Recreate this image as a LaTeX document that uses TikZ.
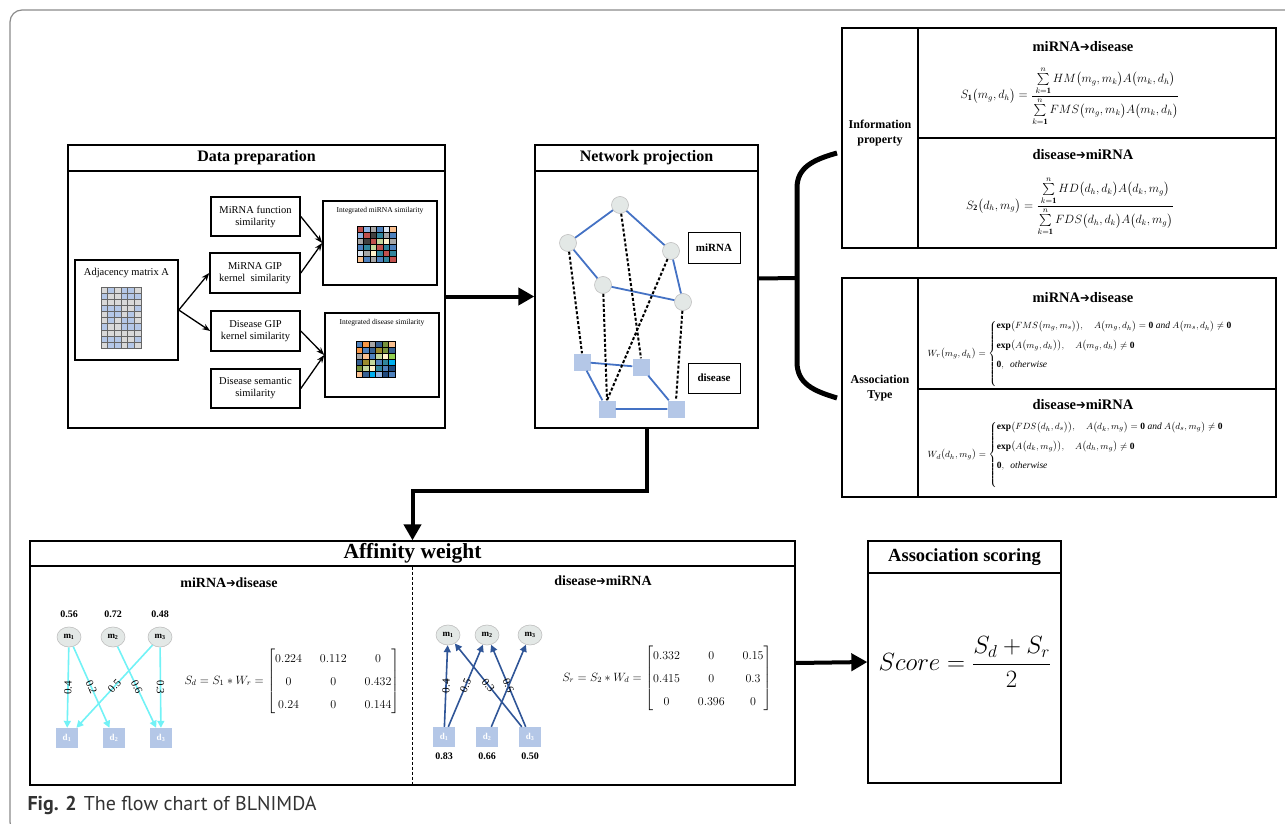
\documentclass[tikz,border=0pt]{standalone}
\usepackage{amsmath}
\usepackage{fontspec}
\setmainfont{Liberation Serif}
\newfontfamily\capfont{PT Sans}
\newfontfamily\arrfont{DejaVu Sans}
\usetikzlibrary{arrows.meta,shapes.geometric}

\definecolor{framegray}{HTML}{8A8A8A}
\definecolor{netblue}{HTML}{4472C4}
\definecolor{nodegray}{HTML}{E3E8E6}
\definecolor{sqblue}{HTML}{B4C7E7}
\definecolor{edgecyan}{HTML}{72F2F6}
\definecolor{edgedark}{HTML}{2F5597}
\definecolor{gridblue}{HTML}{B4C7E7}
\definecolor{gridgray}{HTML}{D9D9D9}
% colours of the two integrated matrices
\definecolor{cred}{HTML}{C0504D}
\definecolor{clb}{HTML}{8EB4E3}
\definecolor{cgr}{HTML}{A6A6A6}
\definecolor{cdg}{HTML}{404040}
\definecolor{csb}{HTML}{4F81BD}
\definecolor{cls}{HTML}{DCE6F2}
\definecolor{cpe}{HTML}{FAC090}
\definecolor{cte}{HTML}{31859C}
\definecolor{clg}{HTML}{C3D69B}
\definecolor{ccr}{HTML}{FFF2CC}
\definecolor{cbl}{HTML}{366092}
\definecolor{cor}{HTML}{F79646}
\definecolor{col}{HTML}{9C8B2E}
\definecolor{cgn}{HTML}{77933C}
\definecolor{ccy}{HTML}{00B0F0}
\definecolor{cmg}{HTML}{92D050}
\definecolor{cdb}{HTML}{1F497D}

\newcommand\fsz[2]{\fontsize{#1}{#2}\selectfont}
\newcommand\rarr{{\arrfont\scalebox{0.8}[0.9]{➔}}}
% box from (x1,y1) to (x2,y2)
\newcommand\boxat[7][]{%
  \node[draw,inner sep=0pt,line width=1.3pt,align=center,#1,
    minimum width={#5-#3},minimum height={#6-#4}] (#2) at ({(#3+#5)/2},{(#4+#6)/2}) {#7};}

\begin{document}
\begin{tikzpicture}[x=1pt,y=-1pt,
  smallarr/.style={line width=1.3pt,-{Stealth[length=8pt,width=6pt]}},
  bigarrow/.style={line width=4pt,-{Triangle[length=16pt,width=17pt]}},
  mirna/.style={circle,fill=nodegray,draw=black!25,line width=0.6pt,minimum size=17pt,inner sep=0pt},
  disq/.style={rectangle,fill=sqblue,minimum size=17pt,inner sep=0pt},
  netedge/.style={netblue,line width=1.8pt},
  dashedge/.style={line width=2pt,dash pattern=on 3pt off 2pt},
  mnode/.style={ellipse,fill=nodegray,draw=black!25,line width=0.6pt,minimum width=24pt,minimum height=20pt,inner sep=0pt,font=\fsz{9}{10}\bfseries},
  dnode/.style={rectangle,fill=sqblue,minimum width=22pt,minimum height=20pt,inner sep=0pt,text=white,font=\fsz{9}{10}\bfseries},
  cyanarr/.style={edgecyan,line width=1.6pt,-{Triangle[length=7pt,width=7pt]}},
  darkarr/.style={edgedark,line width=1.6pt,-{Triangle[length=7pt,width=7pt]}},
  wlbl/.style={sloped,text=black,font=\fsz{11}{12},inner sep=0.5pt},
  val/.style={font=\fsz{10}{11}\bfseries}]
\useasboundingbox (0,0) rectangle (1285,824);
\clip (0,0) rectangle (1285,824);

% outer frame
\draw[framegray,line width=1.2pt,rounded corners=12pt] (10,10) rectangle (1400,834);

% data preparation
\boxat{prep}{68}{145}{445}{428}{}
\boxat{prephead}{68}{145}{445}{171}{\fsz{16}{18}\bfseries Data preparation}
\boxat[line width=1.6pt]{adj}{75}{260}{178}{360}{}
\node[font=\fsz{10.5}{12}] (adjlbl) at (126.5,273) {Adjacency matrix A};
\foreach \j in {0,...,9}
  \foreach \i in {0,...,5} {
    \pgfmathtruncatemacro\pick{mod(\i*3+\j*\j+\j+\i*\j,5)}
    \ifnum\pick<2 \def\cc{gridgray}\else\def\cc{gridblue}\fi
    \filldraw[fill=\cc,draw=black!60,line width=0.4pt] ({101+\i*6.67},{287+\j*6.1}) rectangle ++(6.67,6.1);
  }
\boxat[line width=1.6pt,font=\fsz{10.5}{12}]{mfun}{211}{197}{300}{236}{MiRNA function\\similarity}
\boxat[line width=1.6pt,font=\fsz{10.5}{12}]{mgip}{210}{253}{300}{293}{MiRNA GIP\\kernel\ \ similarity}
\boxat[line width=1.6pt,font=\fsz{10.5}{12}]{dgip}{211}{311}{300}{351}{Disease GIP\\kernel similarity}
\boxat[line width=1.6pt,font=\fsz{10.5}{12}]{dsem}{211}{369}{300}{408}{Disease semantic\\similarity}
\boxat[line width=1.6pt]{imi}{323}{201}{437}{285}{}
\node[font=\fsz{7.5}{9}] (imilbl) at (380,211) {Integrated miRNA similarity};
\boxat[line width=1.6pt]{idi}{325}{313}{439}{397}{}
\node[font=\fsz{7.5}{9}] (idilbl) at (382,323) {Integrated disease similarity};
\foreach \row [count=\j from 0] in {{cred,clb,cgr,csb,cls,cpe},{clb,cred,cdg,cte,cgr,csb},{cgr,cdg,cred,clg,ccr,cgr},{csb,cte,clg,cred,cte,csb},{cls,cgr,ccr,cte,cred,cte},{cpe,csb,cgr,csb,cte,cred}}
  \foreach \c [count=\i from 0] in \row
    \filldraw[fill=\c,draw=black,line width=0.4pt] ({357+\i*6.5},{226+\j*6}) rectangle ++(6.5,6);
\foreach \row [count=\j from 0] in {{csb,cor,cgr,cbl,cgn,cpe},{cor,csb,cbl,col,cgn,cbl},{cgr,cpe,csb,clg,ccr,cmg},{cbl,col,clg,csb,cte,ccy},{cgn,clg,ccr,cte,csb,cdb},{cpe,cbl,ccy,clb,cdb,csb}}
  \foreach \c [count=\i from 0] in \row
    \filldraw[fill=\c,draw=black,line width=0.4pt] ({356+\i*6.5},{341+\j*6}) rectangle ++(6.5,6);
\draw[smallarr] (adj.east) -- (mgip.west);
\draw[smallarr] (adj.east) -- (dgip.west);
\draw[smallarr] (mfun.east) -- (imi.west);
\draw[smallarr] (mgip.east) -- (imi.west);
\draw[smallarr] (dgip.east) -- (idi.west);
\draw[smallarr] (dsem.east) -- (idi.west);

% network projection
\boxat{netw}{535}{145}{758}{428}{}
\boxat{netwhead}{535}{145}{758}{171}{\fsz{16}{18}\bfseries Network projection}
\node[mirna] (c1) at (620,205) {};
\node[mirna] (c2) at (568,243) {};
\node[mirna] (c3) at (671,251) {};
\node[mirna] (c4) at (603,285) {};
\node[mirna] (c5) at (683,302) {};
\node[disq] (s1) at (582,362) {};
\node[disq] (s2) at (641,367) {};
\node[disq] (s3) at (607,409) {};
\node[disq] (s4) at (676,409) {};
\draw[netedge] (c1) -- (c2) (c1) -- (c3) (c2) -- (c4) (c4) -- (c5) (c3) -- (c5);
\draw[netedge] (s1) -- (s2) (s1) -- (s3) (s2) -- (s4) (s3) -- (s4);
\draw[dashedge] (c2) -- (s1.north) (c1) -- (s2.north) (c4) -- (s3.north) (c3) -- (s3.north) (c5) -- (s4.north);
\boxat[line width=1pt,font=\fsz{11}{12}\bfseries]{mlbl}{688}{232}{740}{263}{miRNA}
\boxat[line width=1pt,font=\fsz{11}{12}\bfseries]{dlbl}{688}{363}{740}{393}{disease}

\draw[bigarrow] (prep.east) ++(0,10) coordinate (pe) -- (pe -| netw.west);

% brace to the two tables
\coordinate (br) at (797,278);
\draw[line width=4pt] (netw.east) ++(0,-8) -- (br);
\draw[line width=5pt] (837,153) .. controls (812,160) and (797,168) .. (797,188) -- (797,362) .. controls (797,384) and (814,391) .. (837,398);

% information property table
\boxat[line width=1.5pt]{info}{842}{28}{1276}{248}{}
\draw[line width=1.5pt] (918,28) -- (918,248);
\draw[line width=1.5pt] (918,138) -- (1276,138);
\node[font=\fsz{12}{15}\bfseries,align=center] (infolbl) at (880,133) {Information\\property};
\node[font=\fsz{14.5}{16}\bfseries] (t1a) at (1083,47) {miRNA\rarr disease};
\node[font=\fsz{11.5}{13}] (t1f) at (1070,96) {$S_{\mathbf 1}\bigl(m_g,d_h\bigr)=\dfrac{\sum\limits_{k=\mathbf 1}^{n}HM\bigl(m_g,m_k\bigr)A\bigl(m_k,d_h\bigr)}{\sum\limits_{k=\mathbf 1}^{n}FMS\bigl(m_g,m_k\bigr)A\bigl(m_k,d_h\bigr)}$};
\node[font=\fsz{14.5}{16}\bfseries] (t1b) at (1083,155) {disease\rarr miRNA};
\node[font=\fsz{11.5}{13}] (t1g) at (1070,206) {$S_{\mathbf 2}\bigl(d_h,m_g\bigr)=\dfrac{\sum\limits_{k=\mathbf 1}^{n}HD\bigl(d_h,d_k\bigr)A\bigl(d_k,m_g\bigr)}{\sum\limits_{k=\mathbf 1}^{n}FDS\bigl(d_h,d_k\bigr)A\bigl(d_k,m_g\bigr)}$};

% association type table
\boxat[line width=1.5pt]{assoc}{842}{278}{1276}{497}{}
\draw[line width=1.5pt] (918,278) -- (918,497);
\draw[line width=1.5pt] (918,389) -- (1276,389);
\node[font=\fsz{12}{15}\bfseries,align=center] (assoclbl) at (880,388) {Association\\Type};
\node[font=\fsz{14.5}{16}\bfseries] (t2a) at (1083,298) {miRNA\rarr disease};
\node[font=\fsz{9.5}{11},anchor=west] (t2f) at (924,354) {$W_r\bigl(m_g,d_h\bigr)=\begin{cases}\mathbf{exp}\bigl(FMS\bigl(m_g,m_s\bigr)\bigr),\quad A\bigl(m_g,d_h\bigr)=\mathbf 0\ \textit{and}\ A\bigl(m_s,d_h\bigr)\neq\mathbf 0\\[6pt] \mathbf{exp}\bigl(A\bigl(m_g,d_h\bigr)\bigr),\quad A\bigl(m_g,d_h\bigr)\neq\mathbf 0\\[6pt] \mathbf 0,\ \ \textit{otherwise}\\[4pt] \mbox{}\end{cases}$};
\node[font=\fsz{14.5}{16}\bfseries] (t2b) at (1083,405) {disease\rarr miRNA};
\node[font=\fsz{9.5}{11},anchor=west] (t2g) at (924,455) {$W_d\bigl(d_h,m_g\bigr)=\begin{cases}\mathbf{exp}\bigl(FDS\bigl(d_h,d_s\bigr)\bigr),\quad A\bigl(d_k,m_g\bigr)=\mathbf 0\ \textit{and}\ A\bigl(d_s,m_g\bigr)\neq\mathbf 0\\[6pt] \mathbf{exp}\bigl(A\bigl(d_k,m_g\bigr)\bigr),\quad A\bigl(d_h,m_g\bigr)\neq\mathbf 0\\[6pt] \mathbf 0,\ \ \textit{otherwise}\\[4pt] \mbox{}\end{cases}$};

% affinity weight
\boxat{aff}{30}{541}{795}{785}{}
\boxat{affhead}{30}{541}{795}{566}{\fsz{21.5}{23}\bfseries Affinity weight}
\draw[line width=1.5pt,dash pattern=on 3pt off 2pt] (affhead.south) -- (aff.south);
\draw[bigarrow] (netw.south) -- ++(0,62) -| (aff.north);

\node[font=\fsz{14}{16}\bfseries] (lt) at (229,583) {miRNA\rarr disease};
\foreach \n/\x/\v in {1/69/0.56,2/113/0.72,3/160/0.48} {
  \node[mnode] (lm\n) at (\x,637) {m$_{\mathbf{\n}}$};
  \node[val] (lv\n) at (\x,614) {\v};
}
\foreach \n/\x in {1/67,2/114,3/161}
  \node[dnode] (ld\n) at (\x,738) {d$_{\mathbf{\n}}$};
\draw[cyanarr] (lm1) -- node[wlbl] {0.4} (ld1);
\draw[cyanarr] (lm1) -- node[wlbl] {0.2} (ld2);
\draw[cyanarr] (lm3) -- node[wlbl] {0.5} (ld1);
\draw[cyanarr] (lm2) -- node[wlbl] {0.6} (ld3);
\draw[cyanarr] (lm3) -- node[wlbl] {0.3} (ld3);
\node[font=\fsz{11.5}{13}] (sd) at (292,681) {$S_d=S_1*W_r=\setlength\arraycolsep{9pt}\renewcommand\arraystretch{1.75}\begin{bmatrix}0.224 & 0.112 & 0\\ 0 & 0 & 0.432\\ 0.24 & 0 & 0.144\end{bmatrix}$};

\node[font=\fsz{14}{16}\bfseries] (rt) at (603,581) {disease\rarr miRNA};
\foreach \n/\x in {1/448,2/487,3/530}
  \node[mnode] (rm\n) at (\x,635) {m$_{\mathbf{\n}}$};
\foreach \n/\x/\v in {1/444/0.83,2/487/0.66,3/530/0.50} {
  \node[dnode] (rd\n) at (\x,737) {d$_{\mathbf{\n}}$};
  \node[val] (rv\n) at (\x,756) {\v};
}
\draw[darkarr] (rd1) -- node[wlbl] {0.4} (rm1);
\draw[darkarr] (rd1) -- node[wlbl] {0.5} (rm2);
\draw[darkarr] (rd3) -- node[wlbl] {0.3} (rm1);
\draw[darkarr] (rd3) -- node[wlbl] {0.6} (rm2);
\draw[darkarr] (rd2) -- (rm3);
\node[font=\fsz{11.5}{13}] (sr) at (667,678) {$S_r=S_2*W_d=\setlength\arraycolsep{9pt}\renewcommand\arraystretch{1.75}\begin{bmatrix}0.332 & 0 & 0.15\\ 0.415 & 0 & 0.3\\ 0 & 0.396 & 0\end{bmatrix}$};

% association scoring
\boxat{score}{868}{541}{1061}{783}{}
\boxat{scorehead}{868}{541}{1061}{573}{\fsz{18.5}{20}\bfseries Association scoring}
\node[font=\fsz{24}{26}] (sc) at (965,662) {$Score=\dfrac{S_d+S_r}{2}$};
\draw[bigarrow] (aff.east) -- (score.west);

% caption
\node[anchor=west,font=\capfont\fsz{20}{22},text=black!80] (cap) at (24,805) {\textbf{Fig. 2}\hspace{7pt}The flow chart of BLNIMDA};
\end{tikzpicture}
\end{document}
